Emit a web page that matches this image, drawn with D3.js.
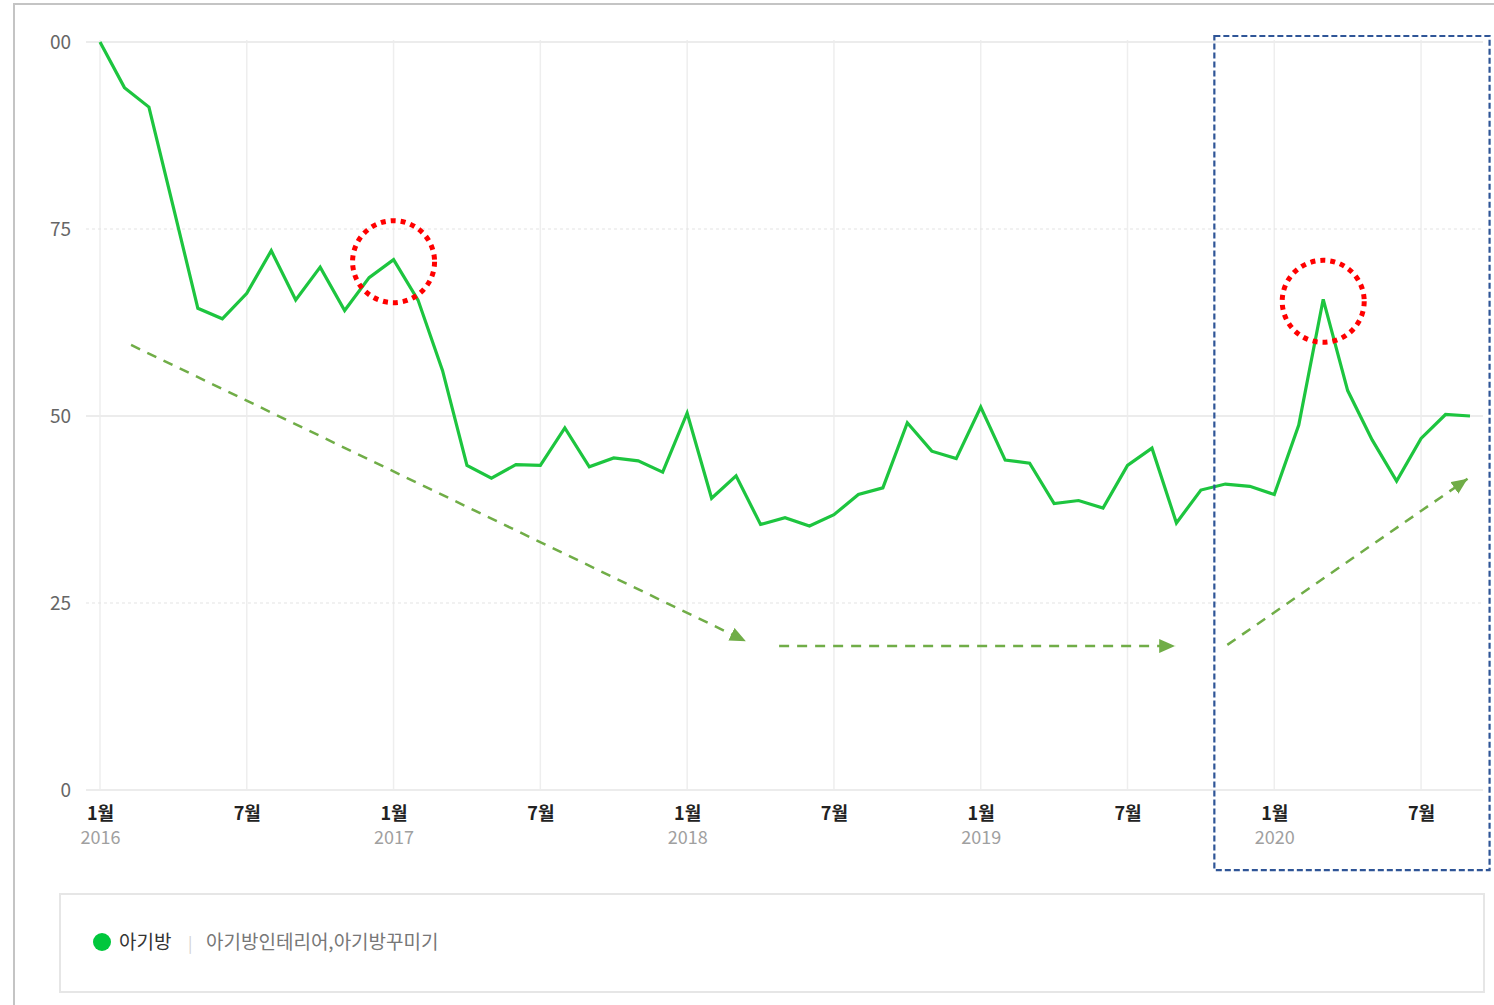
<!DOCTYPE html>
<html>
<head>
<meta charset="utf-8">
<script src="https://cdn.jsdelivr.net/npm/d3@7"></script>
<style>
  body { margin: 0; background: #fff; }
  svg { display: block; font-family: "Noto Sans CJK KR", "Noto Sans", sans-serif; }
</style>
</head>
<body>
<svg id="chart" width="1494" height="1005"></svg>
<script>
// monthly search index, Jan 2016 .. Sep 2020
const values = [
  100, 93.9, 91.3, 77.9, 64.4, 63.0, 66.4, 72.1, 65.5, 69.9, 64.1, 68.5,
  70.9, 65.5, 56.1, 43.4, 41.7, 43.5, 43.4, 48.4, 43.2, 44.4, 44.0, 42.5,
  50.4, 39.0, 42.0, 35.5, 36.4, 35.3, 36.8, 39.5, 40.4, 49.1, 45.3, 44.3,
  51.2, 44.1, 43.7, 38.3, 38.7, 37.7, 43.4, 45.7, 35.7, 40.1, 40.9, 40.6,
  39.5, 48.8, 65.6, 53.4, 46.8, 41.3, 47.0, 50.2, 50.0
];
const tickIndex = [0, 6, 12, 18, 24, 30, 36, 42, 48, 54];
const tickMonths = ['1월', '7월', '1월', '7월', '1월', '7월', '1월', '7월', '1월', '7월'];
const tickYears = ['2016', '', '2017', '', '2018', '', '2019', '', '2020', ''];
const yTicks = [0, 25, 50, 75, 100];

const seriesName = '아기방';
const seriesKeywords = '아기방인테리어,아기방꾸미기';

// annotations, in data units (month index, value)
const circledPoints = [12, 50];
const trendArrows = [
  [1.27, 59.5, 26.4, 19.9],
  [27.76, 19.25, 43.95, 19.25],
  [46.08, 19.4, 55.9, 41.6]
];
const highlightBox = [45.55, 56.8, 100.8, -10.7];

const width = 1494;
const height = 1005;

const svg = d3.select('#chart');

const x = d3.scaleLinear()
  .domain([0, values.length - 1])
  .range([100, 1470]);

const y = d3.scaleLinear()
  .domain([0, 100])
  .range([790, 42]);

// screenshot frame
svg.append('path')
  .attr('d', `M14,${height} L14,4 L${width},4`)
  .attr('fill', 'none')
  .attr('stroke', '#c4c4c4')
  .attr('stroke-width', 2);

// grid
svg.append('g')
  .selectAll('line')
  .data(tickIndex)
  .join('line')
  .attr('x1', d => x(d))
  .attr('x2', d => x(d))
  .attr('y1', y(100) - 2)
  .attr('y2', y(0))
  .attr('stroke', '#eeeeee')
  .attr('stroke-width', 1.5);

svg.append('g')
  .selectAll('line')
  .data(yTicks)
  .join('line')
  .attr('x1', 86)
  .attr('x2', 1483)
  .attr('y1', d => y(d))
  .attr('y2', d => y(d))
  .attr('stroke', d => d % 50 === 0 ? '#ececec' : '#e4e4e4')
  .attr('stroke-width', d => d % 50 === 0 ? 2 : 1.2)
  .attr('stroke-dasharray', d => d % 50 === 0 ? null : '3 3');

// y axis, the 100 label is cut off on the left like the capture
svg.append('clipPath')
  .attr('id', 'yclip')
  .append('rect')
  .attr('x', 49).attr('y', 0).attr('width', 60).attr('height', height);

const yAxis = svg.append('g')
  .attr('clip-path', 'url(#yclip)')
  .append('g')
  .attr('transform', 'translate(71,0)')
  .call(d3.axisLeft(y).tickValues(yTicks).tickSize(0).tickPadding(0));
yAxis.select('.domain').remove();
yAxis.selectAll('text')
  .attr('font-family', '"Noto Sans CJK KR", sans-serif')
  .attr('font-size', 19)
  .attr('fill', '#666')
  .attr('dy', '0.35em');

// x axis
const xAxis = svg.append('g')
  .attr('transform', `translate(0,${y(0)})`)
  .call(d3.axisBottom(x)
    .tickValues(tickIndex)
    .tickSize(0)
    .tickPadding(0)
    .tickFormat((d, i) => tickMonths[i]));
xAxis.select('.domain').remove();
xAxis.selectAll('text')
  .attr('font-family', '"Noto Sans CJK KR", sans-serif')
  .attr('font-size', 18)
  .attr('font-weight', 'bold')
  .attr('fill', '#222')
  .attr('dy', null)
  .attr('y', 30);
xAxis.selectAll('.tick')
  .append('text')
  .attr('y', 54)
  .attr('text-anchor', 'middle')
  .attr('font-family', '"Noto Sans CJK KR", sans-serif')
  .attr('font-size', 18)
  .attr('fill', '#a0a0a0')
  .text((d, i) => tickYears[i]);

// series line
const line = d3.line()
  .x((d, i) => x(i))
  .y(d => y(d));

svg.append('path')
  .datum(values)
  .attr('d', line)
  .attr('fill', 'none')
  .attr('stroke', '#1dc53f')
  .attr('stroke-width', 3.2)
  .attr('stroke-linejoin', 'miter');

// annotations
svg.append('defs')
  .append('marker')
  .attr('id', 'arrowHead')
  .attr('markerUnits', 'userSpaceOnUse')
  .attr('viewBox', '0 0 16 14')
  .attr('refX', 16)
  .attr('refY', 7)
  .attr('markerWidth', 16)
  .attr('markerHeight', 14)
  .attr('orient', 'auto')
  .append('path')
  .attr('d', 'M0,0 L16,7 L0,14 Z')
  .attr('fill', '#70ad47');

svg.append('g')
  .selectAll('line')
  .data(trendArrows)
  .join('line')
  .attr('x1', d => x(d[0]))
  .attr('y1', d => y(d[1]))
  .attr('x2', d => x(d[2]))
  .attr('y2', d => y(d[3]))
  .attr('stroke', '#70ad47')
  .attr('stroke-width', 2.5)
  .attr('stroke-dasharray', '10 8')
  .attr('marker-end', 'url(#arrowHead)');

svg.append('g')
  .selectAll('circle')
  .data(circledPoints)
  .join('circle')
  .attr('cx', d => x(d))
  .attr('cy', d => y(values[d]) + 2)
  .attr('r', 41)
  .attr('fill', 'none')
  .attr('stroke', '#ff0000')
  .attr('stroke-width', 5)
  .attr('stroke-dasharray', '5 5');

svg.append('rect')
  .attr('x', x(highlightBox[0]))
  .attr('y', y(highlightBox[2]))
  .attr('width', x(highlightBox[1]) - x(highlightBox[0]))
  .attr('height', y(highlightBox[3]) - y(highlightBox[2]))
  .attr('fill', 'none')
  .attr('stroke', '#2f5597')
  .attr('stroke-width', 2.2)
  .attr('stroke-dasharray', '6 3');

// legend
const legend = svg.append('g');

legend.append('rect')
  .attr('x', 60)
  .attr('y', 894)
  .attr('width', 1424)
  .attr('height', 98)
  .attr('fill', 'none')
  .attr('stroke', '#e6e6e6')
  .attr('stroke-width', 2);

legend.append('circle')
  .attr('cx', 102)
  .attr('cy', 942)
  .attr('r', 9)
  .attr('fill', '#00c73c');

legend.append('text')
  .attr('x', 119)
  .attr('y', 942)
  .attr('dy', '0.35em')
  .attr('font-size', 19)
  .attr('fill', '#333')
  .text(seriesName);

legend.append('text')
  .attr('x', 188)
  .attr('y', 943)
  .attr('dy', '0.35em')
  .attr('font-size', 16)
  .attr('fill', '#d0d0d0')
  .text('|');

legend.append('text')
  .attr('x', 206)
  .attr('y', 942)
  .attr('dy', '0.35em')
  .attr('font-size', 19)
  .attr('fill', '#777')
  .text(seriesKeywords);
</script>
</body>
</html>
